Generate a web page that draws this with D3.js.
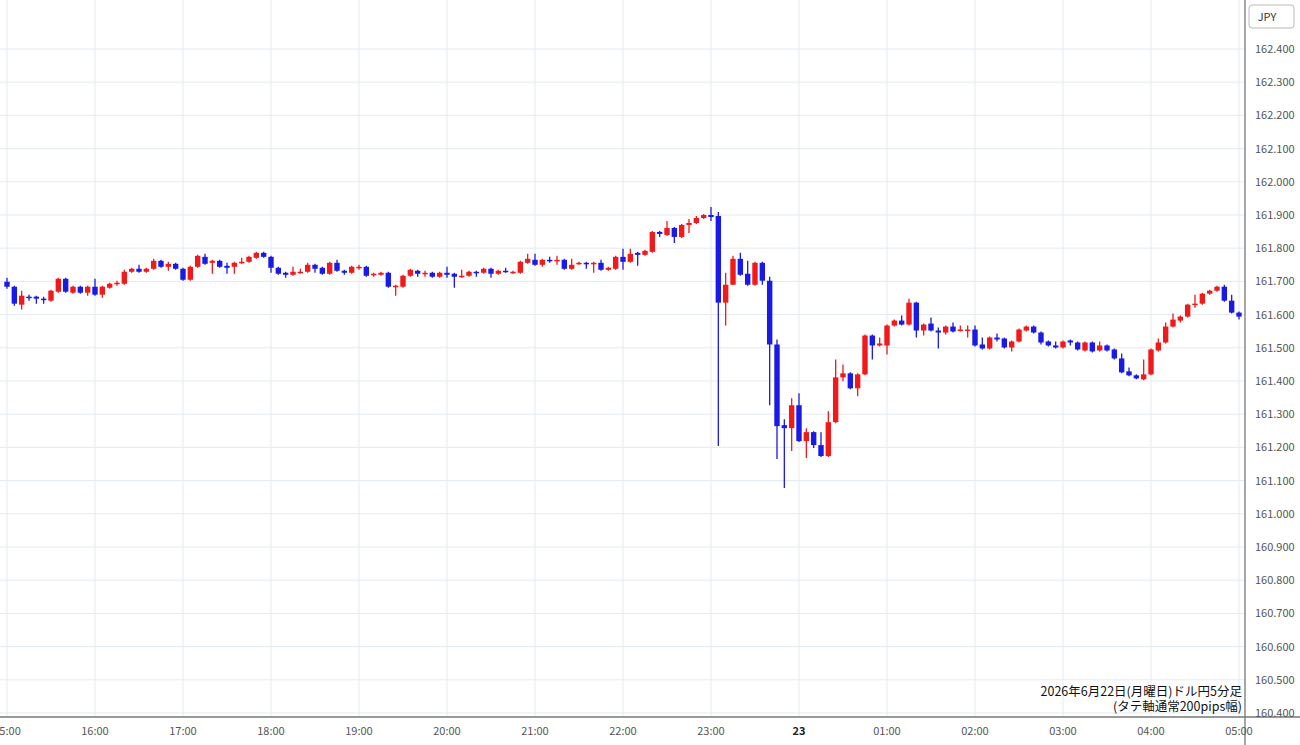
<!DOCTYPE html>
<html>
<head>
<meta charset="utf-8">
<script src="https://cdn.jsdelivr.net/npm/d3@7"></script>
<style>
  body { margin: 0; background: #fff; }
  svg { display: block; font-family: "Noto Sans CJK JP", "Noto Sans", sans-serif; }
</style>
</head>
<body>
<svg id="chart" width="1300" height="745"></svg>
<script>
// USD/JPY 5-minute candles from 15:00, [open, close, high, low]
const candles = [
[161.699,161.684,161.711,161.678],[161.684,161.633,161.687,161.627],[161.630,161.657,161.672,161.615],[161.654,161.651,161.660,161.642],
[161.654,161.648,161.657,161.633],[161.648,161.645,161.654,161.633],[161.642,161.672,161.675,161.639],[161.669,161.708,161.711,161.666],
[161.708,161.669,161.711,161.666],[161.666,161.684,161.687,161.663],[161.684,161.666,161.687,161.663],[161.666,161.684,161.687,161.657],
[161.684,161.660,161.708,161.657],[161.660,161.684,161.687,161.651],[161.681,161.693,161.696,161.678],[161.693,161.696,161.702,161.687],
[161.693,161.729,161.735,161.690],[161.729,161.738,161.741,161.726],[161.738,161.729,161.750,161.726],[161.729,161.738,161.741,161.726],
[161.738,161.762,161.768,161.735],[161.762,161.744,161.765,161.741],[161.744,161.753,161.759,161.732],[161.753,161.738,161.756,161.735],
[161.738,161.705,161.741,161.702],[161.705,161.744,161.747,161.702],[161.744,161.777,161.780,161.741],[161.774,161.753,161.783,161.750],
[161.756,161.762,161.765,161.723],[161.762,161.744,161.765,161.741],[161.747,161.741,161.756,161.723],[161.744,161.756,161.759,161.723],
[161.756,161.759,161.771,161.753],[161.759,161.774,161.777,161.756],[161.771,161.786,161.789,161.768],[161.786,161.774,161.789,161.771],
[161.774,161.741,161.777,161.726],[161.741,161.723,161.744,161.720],[161.726,161.720,161.729,161.711],[161.720,161.729,161.744,161.717],
[161.726,161.729,161.738,161.723],[161.729,161.750,161.756,161.726],[161.750,161.738,161.753,161.726],[161.741,161.723,161.744,161.720],
[161.723,161.756,161.759,161.720],[161.756,161.732,161.765,161.729],[161.732,161.726,161.735,161.720],[161.726,161.744,161.747,161.723],
[161.741,161.744,161.750,161.735],[161.744,161.717,161.747,161.714],[161.720,161.723,161.726,161.714],[161.720,161.726,161.729,161.717],
[161.726,161.684,161.729,161.681],[161.684,161.687,161.690,161.657],[161.684,161.717,161.720,161.681],[161.717,161.735,161.738,161.714],
[161.732,161.723,161.735,161.714],[161.723,161.726,161.732,161.714],[161.726,161.714,161.729,161.711],[161.714,161.726,161.729,161.711],
[161.726,161.720,161.744,161.711],[161.723,161.714,161.726,161.681],[161.714,161.717,161.735,161.711],[161.717,161.729,161.732,161.714],
[161.729,161.726,161.732,161.714],[161.726,161.738,161.741,161.723],[161.738,161.723,161.741,161.711],[161.723,161.732,161.735,161.720],
[161.732,161.729,161.741,161.726],[161.726,161.729,161.732,161.723],[161.726,161.759,161.762,161.723],[161.756,161.768,161.783,161.753],
[161.765,161.750,161.783,161.747],[161.750,161.765,161.768,161.744],[161.765,161.762,161.774,161.756],[161.762,161.765,161.777,161.750],
[161.765,161.738,161.768,161.735],[161.738,161.750,161.768,161.735],[161.753,161.756,161.759,161.750],[161.756,161.753,161.759,161.738],
[161.753,161.756,161.759,161.726],[161.756,161.735,161.765,161.732],[161.735,161.741,161.744,161.732],[161.738,161.774,161.777,161.735],
[161.774,161.759,161.798,161.735],[161.759,161.783,161.798,161.756],[161.786,161.780,161.789,161.747],[161.780,161.792,161.795,161.777],
[161.789,161.849,161.852,161.786],[161.849,161.843,161.852,161.834],[161.840,161.861,161.882,161.837],[161.861,161.834,161.864,161.816],
[161.834,161.870,161.873,161.831],[161.870,161.876,161.888,161.846],[161.876,161.891,161.897,161.873],[161.891,161.900,161.903,161.888],
[161.900,161.894,161.924,161.882],[161.897,161.636,161.909,161.204],[161.636,161.690,161.726,161.567],[161.690,161.768,161.777,161.690],
[161.768,161.720,161.786,161.717],[161.723,161.690,161.762,161.687],[161.690,161.756,161.759,161.687],[161.756,161.702,161.759,161.690],
[161.702,161.510,161.714,161.327],[161.510,161.264,161.525,161.165],[161.267,161.258,161.285,161.078],[161.258,161.327,161.348,161.189],
[161.327,161.219,161.363,161.216],[161.219,161.246,161.258,161.168],[161.246,161.207,161.249,161.198],[161.207,161.174,161.246,161.171],
[161.174,161.276,161.309,161.171],[161.276,161.411,161.465,161.273],[161.411,161.423,161.450,161.399],[161.423,161.378,161.426,161.375],
[161.378,161.420,161.423,161.354],[161.420,161.537,161.540,161.417],[161.537,161.507,161.540,161.465],[161.507,161.513,161.531,161.504],
[161.507,161.567,161.570,161.480],[161.567,161.582,161.585,161.564],[161.582,161.570,161.597,161.567],[161.570,161.636,161.648,161.567],
[161.636,161.552,161.639,161.531],[161.552,161.570,161.573,161.537],[161.573,161.552,161.591,161.549],[161.552,161.546,161.561,161.498],
[161.546,161.564,161.567,161.540],[161.564,161.549,161.576,161.546],[161.552,161.555,161.567,161.549],[161.552,161.555,161.567,161.531],
[161.555,161.507,161.567,161.504],[161.510,161.498,161.531,161.495],[161.498,161.531,161.534,161.495],[161.531,161.525,161.543,161.519],
[161.528,161.501,161.531,161.498],[161.501,161.519,161.522,161.489],[161.519,161.555,161.558,161.516],[161.552,161.564,161.567,161.549],
[161.564,161.546,161.567,161.543],[161.546,161.516,161.549,161.510],[161.519,161.507,161.522,161.504],[161.507,161.501,161.519,161.498],
[161.501,161.519,161.522,161.498],[161.522,161.516,161.525,161.507],[161.516,161.495,161.519,161.492],[161.492,161.516,161.519,161.489],
[161.516,161.489,161.519,161.486],[161.492,161.507,161.519,161.489],[161.507,161.492,161.510,161.489],[161.495,161.468,161.498,161.465],
[161.468,161.426,161.483,161.423],[161.429,161.417,161.441,161.414],[161.417,161.408,161.420,161.405],[161.405,161.420,161.465,161.402],
[161.420,161.495,161.498,161.417],[161.492,161.516,161.528,161.489],[161.516,161.564,161.576,161.513],[161.564,161.585,161.603,161.561],
[161.582,161.594,161.597,161.576],[161.594,161.630,161.633,161.591],[161.630,161.633,161.660,161.621],[161.633,161.663,161.666,161.630],
[161.663,161.672,161.675,161.660],[161.672,161.684,161.687,161.669],[161.684,161.642,161.690,161.639],[161.642,161.606,161.660,161.603],
[161.606,161.594,161.609,161.585]
];
const hourLabels = ["15:00","16:00","17:00","18:00","19:00","20:00","21:00","22:00","23:00","23","01:00","02:00","03:00","04:00","05:00"];
const priceTicks = d3.range(0, 21).map(i => 160.4 + i * 0.1);
const noteLines = ["2026年6月22日(月曜日)ドル円5分足", "(タテ軸通常200pips幅)"];

const plotRight = 1245, axisY = 717;
const svg = d3.select("#chart");
const x = d3.scaleLinear().domain([0, 168]).range([7, 1239]);
const y = d3.scaleLinear().domain([160.4, 162.4]).range([713, 49]);

const plot = svg.append("g");
svg.append("defs").append("clipPath").attr("id", "clip")
  .append("rect").attr("x", 0).attr("y", 0).attr("width", plotRight).attr("height", axisY);
plot.attr("clip-path", "url(#clip)");

// grid
plot.selectAll(".hg").data(priceTicks).join("line")
  .attr("x1", 0).attr("x2", plotRight)
  .attr("y1", d => y(d)).attr("y2", d => y(d))
  .attr("stroke", "#e3ebf0").attr("stroke-width", 1);
plot.selectAll(".vg").data(hourLabels).join("line")
  .attr("x1", (d, i) => x(i * 12)).attr("x2", (d, i) => x(i * 12))
  .attr("y1", 0).attr("y2", axisY)
  .attr("stroke", "#e3ebf0").attr("stroke-width", 1);

// candles
const up = "#f01a1a", down = "#1a1ae6";
const c = plot.selectAll(".c").data(candles).join("g");
c.append("line")
  .attr("x1", (d, i) => x(i)).attr("x2", (d, i) => x(i))
  .attr("y1", d => y(d[2])).attr("y2", d => y(d[3]))
  .attr("stroke", d => d[1] >= d[0] ? up : down).attr("stroke-width", 1.3);
c.append("rect")
  .attr("x", (d, i) => x(i) - 2.7).attr("width", 5.4)
  .attr("y", d => y(Math.max(d[0], d[1])))
  .attr("height", d => Math.max(1.5, Math.abs(y(d[0]) - y(d[1]))))
  .attr("fill", d => d[1] >= d[0] ? up : down);

// axes frame
svg.append("line").attr("x1", 0).attr("x2", 1300).attr("y1", axisY).attr("y2", axisY)
  .attr("stroke", "#777").attr("stroke-width", 1.3);
svg.append("line").attr("x1", plotRight).attr("x2", plotRight).attr("y1", 0).attr("y2", 745)
  .attr("stroke", "#777").attr("stroke-width", 1.3);

svg.selectAll(".yl").data(priceTicks).join("text")
  .attr("x", 1255).attr("y", d => y(d) + 4)
  .attr("font-size", 11).attr("fill", "#555")
  .text(d => d3.format(".3f")(d));

svg.selectAll(".xl").data(hourLabels).join("text")
  .attr("x", (d, i) => x(i * 12)).attr("y", 735)
  .attr("text-anchor", "middle").attr("font-size", 11)
  .attr("fill", d => d === "23" ? "#222" : "#555")
  .attr("font-weight", d => d === "23" ? "bold" : "normal")
  .text(d => d);

// currency box
svg.append("rect").attr("x", 1249).attr("y", 5).attr("width", 45).attr("height", 23)
  .attr("rx", 3).attr("fill", "#fff").attr("stroke", "#bbb");
svg.append("text").attr("x", 1267).attr("y", 21).attr("text-anchor", "middle")
  .attr("font-size", 11).attr("fill", "#333").text("JPY");

svg.selectAll(".note").data(noteLines).join("text")
  .attr("x", 1242).attr("y", (d, i) => 696 + i * 15)
  .attr("text-anchor", "end").attr("font-size", 12.5).attr("fill", "#111")
  .text(d => d);
</script>
</body>
</html>
